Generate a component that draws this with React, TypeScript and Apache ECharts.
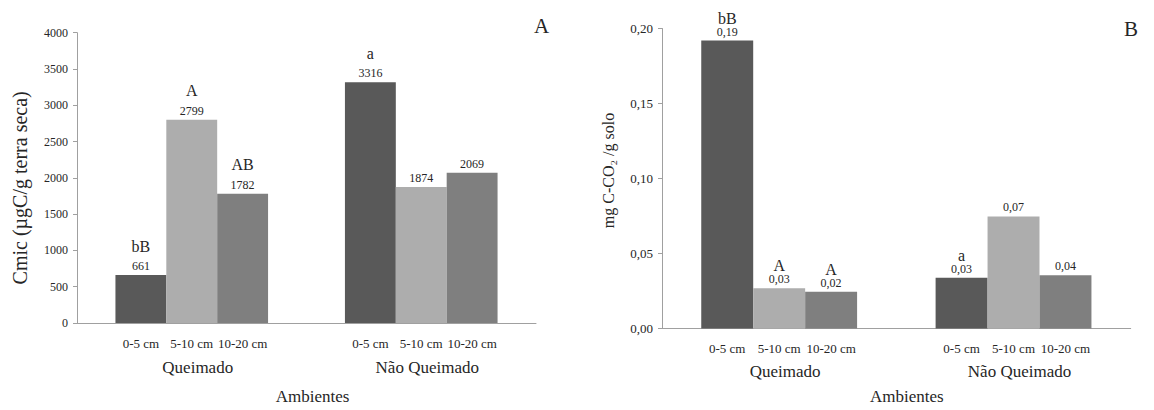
import React, { useEffect, useRef } from "react";
import * as echarts from "echarts";

const groups = ["Queimado", "Não Queimado"];
const depths = ["0-5 cm", "5-10 cm", "10-20 cm"];

// Panel A: Cmic (µgC/g terra seca)
const cmic0_5 = [661, 3316];
const cmic5_10 = [2799, 1874];
const cmic10_20 = [1782, 2069];
const cmicLetters0_5 = ["bB", "a"];
const cmicLetters5_10 = ["A", ""];
const cmicLetters10_20 = ["AB", ""];
const cmicAxis = { min: 0, max: 4000, interval: 500 };

// Panel B: mg C-CO2 / g solo
const co2_0_5 = [0.192, 0.0339];
const co2_5_10 = [0.0268, 0.0747];
const co2_10_20 = [0.0245, 0.0355];
const co2Letters0_5 = ["bB", "a"];
const co2Letters5_10 = ["A", ""];
const co2Letters10_20 = ["A", ""];
const co2Axis = { min: 0, max: 0.2, interval: 0.05 };

const colors = ["#595959", "#adadad", "#7f7f7f"];
const FONT = "Times New Roman, Liberation Serif, serif";
const TXT = "#262626";
const AXIS = "#a0a0a0";

const comma = (v: number) => v.toFixed(2).replace(".", ",");

export default function App() {
  const ref = useRef<HTMLDivElement>(null);
  useEffect(() => {
    if (!ref.current) return;
    const chart = echarts.init(ref.current, undefined, { renderer: "svg" });

    const mkSeries = (
      values: number[],
      letters: string[],
      depthIdx: number,
      axisIdx: number,
      fmt: (v: number) => string,
      letterLH: number
    ) => ({
      type: "bar",
      name: depths[depthIdx],
      xAxisIndex: axisIdx,
      yAxisIndex: axisIdx,
      data: values,
      barGap: "0%",
      barCategoryGap: "33.5%",
      itemStyle: { color: colors[depthIdx] },
      label: {
        show: true,
        position: "top",
        distance: 2,
        fontFamily: FONT,
        fontSize: 12,
        color: TXT,
        formatter: (p: any) => {
          const l = letters[p.dataIndex];
          const v = fmt(p.value);
          return l ? `{l|${l}}\n{v|${v}}` : `{v|${v}}`;
        },
        rich: {
          l: { fontSize: 16, lineHeight: letterLH, fontFamily: FONT, color: TXT },
          v: { fontSize: 12, lineHeight: 14, fontFamily: FONT, color: TXT },
        },
      },
      markPoint: {
        symbol: "circle",
        symbolSize: 1,
        silent: true,
        itemStyle: { color: "rgba(0,0,0,0)" },
        label: {
          show: true,
          position: "bottom",
          distance: 13,
          fontFamily: FONT,
          fontSize: 13,
          color: TXT,
          formatter: () => depths[depthIdx],
        },
        data: groups.map((g) => ({ coord: [g, 0] })),
      },
    });

    const xAxisBase = (gridIndex: number, nameGap: number, namePadLeft: number, margin: number) => ({
      type: "category",
      gridIndex,
      data: groups,
      name: "Ambientes",
      nameLocation: "middle",
      nameGap,
      nameTextStyle: { fontFamily: FONT, fontSize: 17, color: TXT, padding: [0, 0, 0, namePadLeft] },
      axisLine: { show: true, lineStyle: { color: AXIS, width: 1 } },
      axisTick: { show: false },
      axisLabel: {
        margin,
        fontFamily: FONT,
        fontSize: 17,
        color: TXT,
        padding: [0, 0, 0, 12],
      },
      splitLine: { show: false },
    });

    const option: any = {
      animation: false,
      backgroundColor: "#ffffff",
      textStyle: { fontFamily: FONT, color: TXT },
      grid: [
        { left: 77, top: 32.7, width: 459, height: 293.3 },
        { left: 662, top: 28.5, width: 468.7, height: 300 },
      ],
      xAxis: [xAxisBase(0, 65, 12, 36), xAxisBase(1, 59, 21, 34)],
      yAxis: [
        {
          type: "value",
          gridIndex: 0,
          ...cmicAxis,
          name: "Cmic (µgC/g terra seca)",
          nameLocation: "middle",
          nameGap: 47,
          nameTextStyle: { fontFamily: FONT, fontSize: 20, color: TXT, padding: [0, 20, 0, 0] },
          axisLine: { show: true, lineStyle: { color: AXIS, width: 1 } },
          axisTick: { show: true, length: 4, lineStyle: { color: AXIS } },
          axisLabel: {
            fontFamily: FONT,
            fontSize: 12,
            color: TXT,
            margin: 9,
            formatter: (v: number) => String(v),
          },
          splitLine: { show: false },
        },
        {
          type: "value",
          gridIndex: 1,
          ...co2Axis,
          name: "mg C-CO₂ /g solo",
          nameLocation: "middle",
          nameGap: 46,
          nameTextStyle: { fontFamily: FONT, fontSize: 16, color: TXT, padding: [0, 0, 0, 16] },
          axisLine: { show: true, lineStyle: { color: AXIS, width: 1 } },
          axisTick: { show: true, length: 4, lineStyle: { color: AXIS } },
          axisLabel: {
            fontFamily: FONT,
            fontSize: 13,
            color: TXT,
            margin: 9,
            formatter: (v: number) => comma(v),
          },
          splitLine: { show: false },
        },
      ],
      series: [
        mkSeries(cmic0_5, cmicLetters0_5, 0, 0, (v) => String(v), 26),
        mkSeries(cmic5_10, cmicLetters5_10, 1, 0, (v) => String(v), 26),
        mkSeries(cmic10_20, cmicLetters10_20, 2, 0, (v) => String(v), 26),
        mkSeries(co2_0_5, co2Letters0_5, 0, 1, comma, 13),
        mkSeries(co2_5_10, co2Letters5_10, 1, 1, comma, 13),
        mkSeries(co2_10_20, co2Letters10_20, 2, 1, comma, 13),
      ],
      graphic: [
        {
          type: "text",
          x: 541.5,
          y: 25.5,
          style: { text: "A", fontFamily: FONT, fontSize: 21, fill: TXT, textAlign: "center", textVerticalAlign: "middle" },
        },
        {
          type: "text",
          x: 1131,
          y: 28.5,
          style: { text: "B", fontFamily: FONT, fontSize: 21, fill: TXT, textAlign: "center", textVerticalAlign: "middle" },
        },
      ],
    };

    chart.setOption(option);
    return () => chart.dispose();
  }, []);

  return (
    <div
      ref={ref}
      style={{ position: "fixed", left: 0, top: 0, width: 1154, height: 410, background: "#fff" }}
    />
  );
}
